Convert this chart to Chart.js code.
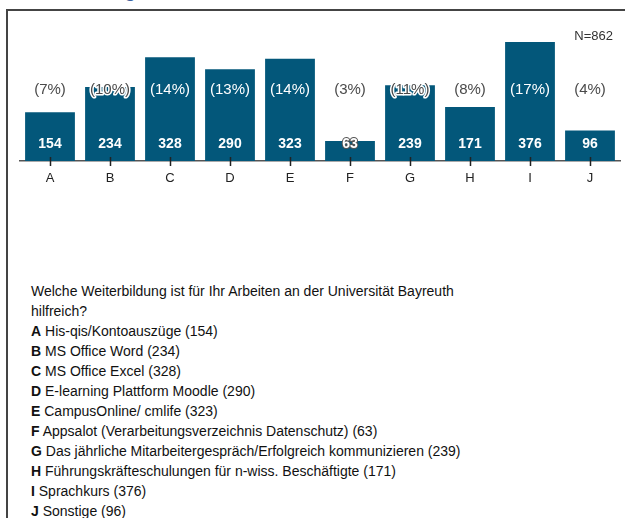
<!DOCTYPE html>
<html>
<head>
<meta charset="utf-8">
<script src="https://cdn.jsdelivr.net/npm/chart.js@4"></script>
<style>
  body { margin: 0; background: #fff; font-family: "Liberation Sans", Arial, sans-serif; overflow: hidden; }
  #title { position: absolute; left: 8px; top: -21px; font-size: 21px; line-height: 21px; color: #3d5f9e; }
  #frame { position: absolute; left: 6px; top: 9px; width: 700px; height: 600px; border-left: 2px solid #444; border-top: 2px solid #444; }
  #wrap { position: absolute; left: 0; top: 0; width: 625px; height: 200px; }
  #legend { position: absolute; left: 31px; top: 281px; font-size: 14px; line-height: 20px; color: #111; }
</style>
</head>
<body>
<div id="title">Weiterbildung</div>
<div id="frame"></div>
<div id="wrap"><canvas id="chart"></canvas></div>
<div id="legend"></div>
<script>
const categories = ["A", "B", "C", "D", "E", "F", "G", "H", "I", "J"];
const counts = [154, 234, 328, 290, 323, 63, 239, 171, 376, 96];
const pctLabels = ["(7%)", "(10%)", "(14%)", "(13%)", "(14%)", "(3%)", "(11%)", "(8%)", "(17%)", "(4%)"];
const itemNames = [
    "His-qis/Kontoauszüge",
    "MS Office Word",
    "MS Office Excel",
    "E-learning Plattform Moodle",
    "CampusOnline/ cmlife",
    "Appsalot (Verarbeitungsverzeichnis Datenschutz)",
    "Das jährliche Mitarbeitergespräch/Erfolgreich kommunizieren",
    "Führungskräfteschulungen für n-wiss. Beschäftigte",
    "Sprachkurs",
    "Sonstige"
];
const question = "Welche Weiterbildung ist für Ihr Arbeiten an der Universität Bayreuth<br>hilfreich?";
const sampleLabel = "N=862";

// question text + list below the chart
let html = question;
categories.forEach((c, i) => {
    html += `<br><b>${c}</b> ${itemNames[i]} (${counts[i]})`;
});
document.getElementById("legend").innerHTML = html;

const FONT = '"Liberation Sans", Arial, sans-serif';

// labels on bars, ticks, N
const barLabels = {
    id: "barLabels",
    afterDatasetsDraw(chart) {
        const ctx = chart.ctx;
        const area = chart.chartArea;
        const meta = chart.getDatasetMeta(0);
        ctx.save();
        ctx.textAlign = "center";
        ctx.textBaseline = "middle";
        ctx.lineJoin = "round";

        // ticks crossing the axis
        ctx.strokeStyle = "#222";
        ctx.lineWidth = 1.5;
        meta.data.forEach(bar => {
            ctx.beginPath();
            ctx.moveTo(Math.round(bar.x) + 0.5, area.bottom - 4);
            ctx.lineTo(Math.round(bar.x) + 0.5, area.bottom + 5);
            ctx.stroke();
        });

        meta.data.forEach((bar, i) => {
            // percentage
            const py = area.top + 60;
            ctx.font = "15px " + FONT;
            if (bar.y < py - 10) {
                ctx.fillStyle = "#ffffff";
                ctx.fillText(pctLabels[i], bar.x, py);
            } else {
                ctx.strokeStyle = "#ffffff";
                ctx.lineWidth = 3;
                ctx.strokeText(pctLabels[i], bar.x, py);
                ctx.fillStyle = "#4a4a4a";
                ctx.fillText(pctLabels[i], bar.x, py);
            }
            // count
            const vy = area.bottom - 17;
            ctx.font = "bold 14px " + FONT;
            if (bar.y > vy - 8) {
                ctx.strokeStyle = "#555";
                ctx.lineWidth = 2;
                ctx.strokeText(counts[i], bar.x, vy);
            }
            ctx.fillStyle = "#ffffff";
            ctx.fillText(counts[i], bar.x, vy);
        });

        ctx.font = "13px " + FONT;
        ctx.textAlign = "right";
        ctx.fillStyle = "#333";
        ctx.fillText(sampleLabel, area.right - 7, 36);
        ctx.restore();
    }
};

new Chart(document.getElementById("chart"), {
    type: "bar",
    data: {
        labels: categories,
        datasets: [{
            data: counts,
            backgroundColor: "#03577a",
            borderWidth: 0,
            barPercentage: 0.83,
            categoryPercentage: 1.0
        }]
    },
    options: {
        responsive: true,
        maintainAspectRatio: false,
        animation: false,
        events: [],
        layout: { padding: { left: 20, right: 5, top: 30, bottom: 0 } },
        plugins: {
            legend: { display: false },
            tooltip: { enabled: false },
            title: { display: false }
        },
        scales: {
            x: {
                offset: true,
                grid: { display: false, drawTicks: false },
                border: { display: true, color: "#555", width: 1.5 },
                ticks: { color: "#222", font: { family: FONT, size: 13 }, padding: 10 },
                afterFit(scale) { scale.height = 39; }
            },
            y: {
                display: false,
                min: 0,
                max: 414
            }
        }
    },
    plugins: [barLabels]
});
</script>
</body>
</html>
